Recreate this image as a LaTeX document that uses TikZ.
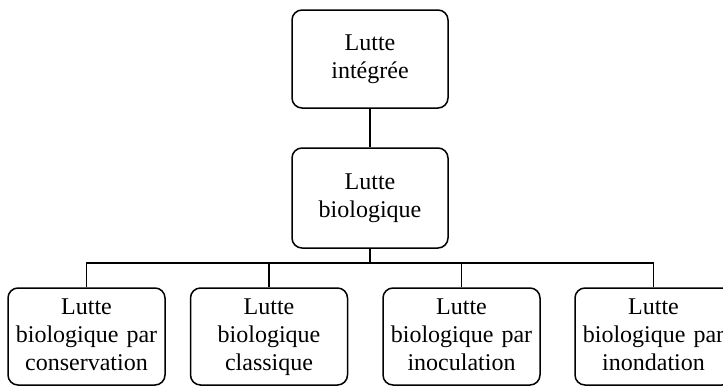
\documentclass[tikz,border=0pt]{standalone}
\usepackage{fontspec}
\setmainfont{Liberation Serif}
\begin{document}
\begin{tikzpicture}[x=1pt,y=-1pt,
  box/.style={draw, line width=1.5pt, rounded corners=10pt, inner sep=0pt,
    text width=156pt, align=center, font=\fontsize{24}{28}\selectfont},
  conn/.style={line width=1.5pt}]
\useasboundingbox (0,0) rectangle (723,388);
\clip (0,0) rectangle (723,388);
\node[box, minimum width=156pt, minimum height=98pt] (top) at (370,59) {\strut Lutte\\intégrée\strut};
\node[box, minimum width=156pt, minimum height=100pt] (mid) at (370,198) {\strut Lutte\\biologique\strut};
\node[box, minimum width=157pt, minimum height=97pt] (b1) at (86.5,336.5) {\strut Lutte\\biologique par\\conservation\strut};
\node[box, minimum width=157pt, minimum height=97pt] (b2) at (269,336.5) {\strut Lutte\\biologique\\classique\strut};
\node[box, minimum width=157pt, minimum height=97pt] (b3) at (461.5,336.5) {\strut Lutte\\biologique par\\inoculation\strut};
\node[box, minimum width=157pt, minimum height=97pt] (b4) at (653.5,336.5) {\strut Lutte\\biologique par\\inondation\strut};
\coordinate (bus) at (0,263);
\draw[conn] (top.south) -- (mid.north);
\foreach \b in {b1,b2,b3,b4}
  \draw[conn] (mid.south) -- (mid.south |- bus) -| (\b.north);
\end{tikzpicture}
\end{document}
